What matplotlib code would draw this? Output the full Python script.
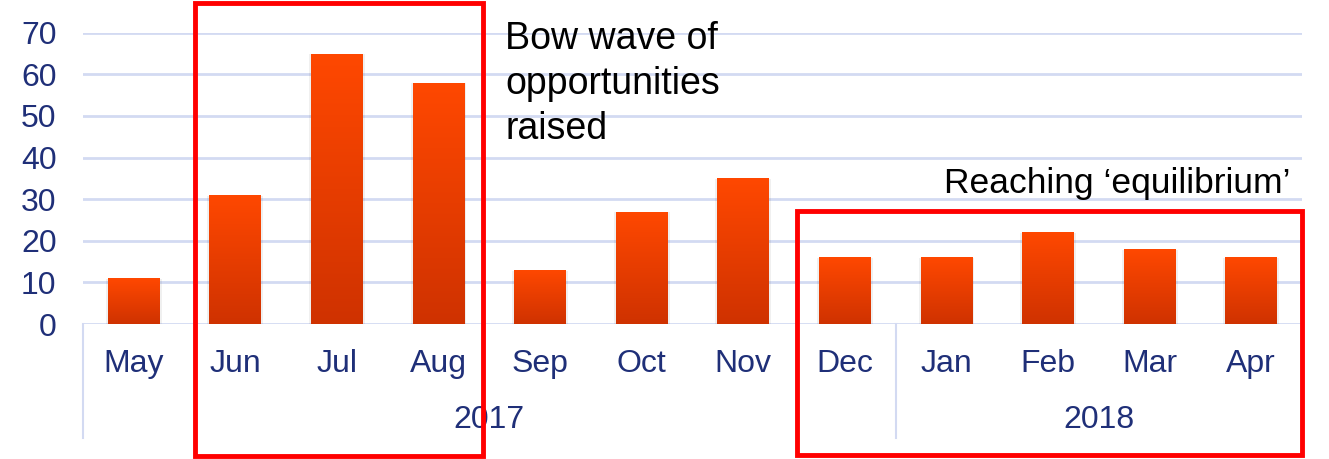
import matplotlib
matplotlib.use("Agg")
import matplotlib.pyplot as plt
import matplotlib.transforms as mtrans
import numpy as np
from matplotlib.colors import LinearSegmentedColormap
from matplotlib.patches import Rectangle

months = ["May", "Jun", "Jul", "Aug", "Sep", "Oct", "Nov", "Dec", "Jan", "Feb", "Mar", "Apr"]
values = [11, 31, 65, 58, 13, 27, 35, 16, 16, 22, 18, 16]
years = ["2017", "2018"]
year_counts = [8, 4]
y_ticks = [0, 10, 20, 30, 40, 50, 60, 70]

plt.rcParams['font.family'] = ['Liberation Sans', 'DejaVu Sans']
navy = "#1F2F78"
grid_c = "#D3DAF2"

W, H = 1329, 459
fig = plt.figure(figsize=(W / 100, H / 100), dpi=100)
x0, x1 = 83, 1302
y0, y1 = 324, 32.7
ax = fig.add_axes([x0 / W, 1 - y0 / H, (x1 - x0) / W, (y0 - y1) / H])

n = len(months)
for s in ax.spines.values():
    s.set_visible(False)
ax.set_yticks(y_ticks)
ax.set_yticklabels([str(t) for t in y_ticks], fontsize=23, color=navy)
ax.tick_params(axis='y', length=0, pad=19)
ax.set_xticks([])
for t in y_ticks:
    ax.axhline(t, color=grid_c, lw=2, zorder=0)

cmap = LinearSegmentedColormap.from_list("g", ["#CF3200", "#FF4800"])
grad = np.linspace(0, 1, 256).reshape(-1, 1)
bw = 0.51
for i, v in enumerate(values):
    ax.add_patch(Rectangle((i - bw / 2 - 0.02, -0.6), bw + 0.04, v + 0.4,
                           facecolor="#000000", alpha=0.06, lw=0, zorder=1))
    r = Rectangle((i - bw / 2, 0), bw, v, facecolor="none", lw=0, zorder=2)
    ax.add_patch(r)
    im = ax.imshow(grad, cmap=cmap, origin="lower", aspect="auto",
                   extent=(i - bw / 2, i + bw / 2, 0, v), zorder=2)
    im.set_clip_path(r)
ax.set_xlim(-0.5, n - 0.5)
ax.set_ylim(0, 70)

vt = mtrans.blended_transform_factory(ax.transData, fig.transFigure)
for i, m in enumerate(months):
    ax.text(i, 1 - 364 / H, m, transform=vt, fontsize=23, color=navy,
            ha="center", va="center")

start = 0
bounds = [-0.5]
for y, c in zip(years, year_counts):
    center = start + (c - 1) / 2
    ax.text(center, 1 - 420 / H, y, fontsize=23, color=navy, ha="center", va="center",
            transform=vt)
    start += c
    bounds.append(start - 0.5)

for b in bounds:
    ax.plot([b, b], [1 - 324 / H, 1 - 438 / H], color=grid_c, lw=1.5, transform=vt,
            clip_on=False, zorder=0)

red = "#FF0000"
fig.add_artist(Rectangle((195 / W, 1 - 456 / H), (483 - 195) / W, (456 - 3) / H,
                         transform=fig.transFigure, fill=False, ec=red, lw=3.5, zorder=10))
fig.add_artist(Rectangle((797 / W, 1 - 455 / H), (1302 - 797) / W, (455 - 211) / H,
                         transform=fig.transFigure, fill=False, ec=red, lw=3.5, zorder=10))

fig.text(505 / W, 1 - 21 / H, "Bow wave of\nopportunities\nraised", fontsize=27,
         color="black", ha="left", va="top", linespacing=1.32)
fig.text(1290 / W, 1 - 184 / H, "Reaching \u2018equilibrium\u2019", fontsize=25.5,
         color="black", ha="right", va="center")

fig.savefig("out.png", dpi=100)
